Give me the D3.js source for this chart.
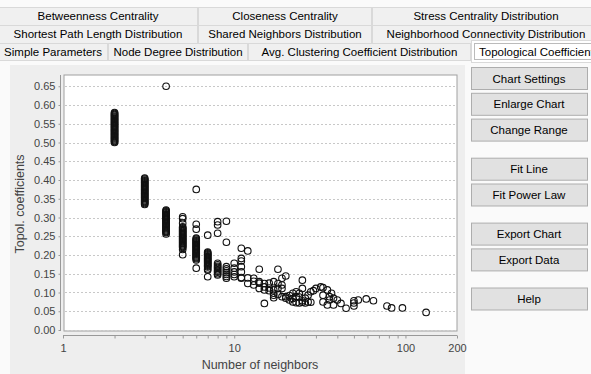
<!DOCTYPE html>
<html>
<head>
<meta charset="utf-8">
<script src="https://cdn.jsdelivr.net/npm/d3@7"></script>
<style>
  body { margin: 0; background: #fafafa; }
  svg { display: block; }
</style>
</head>
<body>
<script>
// tab captions, three rows
const tabRow1 = ['Betweenness Centrality', 'Closeness Centrality', 'Stress Centrality Distribution'];
const tabRow2 = ['Shortest Path Length Distribution', 'Shared Neighbors Distribution', 'Neighborhood Connectivity Distribution'];
const tabRow3 = ['Simple Parameters', 'Node Degree Distribution', 'Avg. Clustering Coefficient Distribution', 'Topological Coefficients'];
const buttonLabels = ['Chart Settings', 'Enlarge Chart', 'Change Range', '', 'Fit Line', 'Fit Power Law', '', 'Export Chart', 'Export Data', '', 'Help'];

// axis ticks
const yTicks = [0, 0.05, 0.1, 0.15, 0.2, 0.25, 0.3, 0.35, 0.4, 0.45, 0.5, 0.55, 0.6, 0.65];
const xMajor = [1, 10, 100, 200];
const xMinor = [2, 3, 4, 5, 6, 7, 8, 9, 20, 30, 40, 50, 60, 70, 80, 90];

// number of neighbors (k) and the topological coefficients of the nodes with k neighbors
const degrees = [2, 3, 4, 5, 6, 7, 8, 9, 10, 11, 12, 13, 14, 15, 16, 17, 18, 19, 20, 21, 22, 23, 24, 25, 26, 27, 28,
  29, 30, 32, 33, 35, 36, 37, 38, 40, 42, 45, 50, 53, 59, 65, 78, 83, 96, 132];
const coefficients = [
  [0.500,0.5025,0.505,0.5075,0.510,0.5125,0.515,0.5175,0.520,0.5225,0.525,0.5275,0.530,0.5325,0.535,0.5375,0.540,
   0.5425,0.545,0.5475,0.550,0.5525,0.555,0.5575,0.560,0.5625,0.565,0.5675,0.570,0.5725,0.575,0.5775,0.580],
  [0.335,0.3375,0.340,0.3425,0.345,0.3475,0.350,0.3525,0.355,0.3575,0.360,0.3625,0.365,0.3675,0.370,0.3725,0.375,
   0.3775,0.380,0.3825,0.385,0.3875,0.390,0.3925,0.395,0.3975,0.400,0.4025,0.405],
  [0.650,0.256,0.260,0.2625,0.265,0.2675,0.270,0.2725,0.275,0.2775,0.280,0.2825,0.285,0.2875,0.290,0.2925,0.295,
   0.2975,0.300,0.3025,0.305,0.3075,0.310,0.3125,0.315,0.3175,0.320],
  [0.302,0.297,0.285,0.275,0.2725,0.270,0.2675,0.265,0.2625,0.260,0.2575,0.255,0.2525,0.250,0.2475,0.245,0.2425,
   0.240,0.2375,0.235,0.2325,0.230,0.2275,0.225,0.2225,0.220,0.215,0.201],
  [0.375,0.282,0.269,0.245,0.2425,0.240,0.2375,0.235,0.2325,0.230,0.2275,0.225,0.2225,0.220,0.2175,0.215,0.2125,
   0.210,0.2075,0.205,0.2025,0.200,0.1975,0.195,0.1925,0.190,0.187,0.165],
  [0.253,0.208,0.2055,0.203,0.2005,0.198,0.1955,0.193,0.1905,0.188,0.1855,0.183,0.1805,0.178,0.1755,0.173,0.1705,
   0.168,0.163,0.160,0.142],
  [0.289,0.280,0.258,0.178,0.174,0.170,0.167,0.164,0.160,0.157,0.154,0.150,0.147],
  [0.290,0.234,0.169,0.163,0.158,0.153,0.148,0.143,0.138],
  [0.178,0.165,0.155,0.148,0.142],
  [0.218,0.191,0.184,0.169,0.155,0.140,0.138],
  [0.211,0.139,0.124],
  [0.138,0.130,0.120],
  [0.162,0.129,0.125,0.111],
  [0.124,0.115,0.107,0.071],
  [0.125,0.112,0.105],
  [0.129,0.107,0.098,0.093,0.086],
  [0.162,0.124,0.111,0.095],
  [0.138,0.120,0.111,0.089],
  [0.144,0.089,0.085],
  [0.092,0.080],
  [0.098,0.084,0.075],
  [0.102,0.089,0.073],
  [0.098,0.088,0.072],
  [0.133,0.111,0.078,0.074],
  [0.085,0.072],
  [0.093,0.075],
  [0.102,0.074],
  [0.105],
  [0.111],
  [0.115],
  [0.113,0.093,0.075],
  [0.107,0.067],
  [0.089,0.080],
  [0.098],
  [0.085,0.067],
  [0.080],
  [0.071],
  [0.058],
  [0.078,0.064,0.072],
  [0.080],
  [0.083],
  [0.078],
  [0.064],
  [0.059],
  [0.059],
  [0.047]
];

const W = 591, H = 374;
const uiFont = '"Liberation Sans", Arial, sans-serif';
const chartFont = '"Liberation Sans", Arial, sans-serif';

const svg = d3.select('body').append('svg')
  .attr('width', W)
  .attr('height', H);

svg.append('rect').attr('width', W).attr('height', H).attr('fill', '#fafafa');

// ---- tabs ----
function tabRow(labels, bounds, y0, h) {
  const g = svg.append('g');
  labels.forEach((t, i) => {
    const x0 = bounds[i], x1 = bounds[i + 1];
    g.append('rect')
      .attr('x', x0 + 0.5).attr('y', y0 + 0.5)
      .attr('width', x1 - x0 - 1).attr('height', h)
      .attr('fill', '#f0f0f0').attr('stroke', '#d9d9d9');
    g.append('text')
      .attr('x', (x0 + x1) / 2).attr('y', y0 + h / 2 + 4)
      .attr('text-anchor', 'middle')
      .attr('font-family', uiFont).attr('font-size', 11.5)
      .attr('fill', '#000')
      .text(t);
  });
  return g;
}
tabRow(tabRow1, [-2, 198, 372, 600], 7, 18);
tabRow(tabRow2, [-2, 198, 372, 600], 25, 18);
const row3 = tabRow(tabRow3.slice(0, 3), [-2, 108, 248, 471], 43, 17);
// selected tab
row3.append('rect')
  .attr('x', 471.5).attr('y', 40.5).attr('width', 125).attr('height', 22)
  .attr('fill', '#ffffff').attr('stroke', '#d9d9d9');
row3.append('rect')
  .attr('x', 474.5).attr('y', 43.5).attr('width', 125).attr('height', 16)
  .attr('fill', 'none').attr('stroke', '#777').attr('stroke-dasharray', '1,1');
row3.append('text')
  .attr('x', 479).attr('y', 56)
  .attr('font-family', uiFont).attr('font-size', 11.5)
  .text(tabRow3[3]);

// ---- chart panel ----
svg.append('rect')
  .attr('x', 10).attr('y', 65).attr('width', 455).attr('height', 312)
  .attr('fill', '#eeeeee');

const plot = { left: 64, right: 457, top: 75, bottom: 331 };

const x = d3.scaleLog()
  .domain([1, 200])
  .range([63, 457]);

const y = d3.scaleLinear()
  .domain([0, 0.68])
  .range([330, 75]);

svg.append('rect')
  .attr('x', plot.left).attr('y', plot.top)
  .attr('width', plot.right - plot.left).attr('height', plot.bottom - plot.top)
  .attr('fill', '#ffffff').attr('stroke', '#a0a0a0');

// horizontal grid
svg.append('g')
  .selectAll('line')
  .data(yTicks)
  .enter()
  .append('line')
  .attr('x1', plot.left + 1).attr('x2', plot.right - 1)
  .attr('y1', d => Math.round(y(d)) + 0.5).attr('y2', d => Math.round(y(d)) + 0.5)
  .attr('stroke', '#c8c8c8').attr('stroke-dasharray', '2,2');

// y axis
const yAxis = svg.append('g')
  .attr('transform', 'translate(60.5,0)')
  .call(d3.axisLeft(y).tickValues(yTicks).tickFormat(d3.format('.2f')).tickSize(2).tickPadding(3));
yAxis.select('.domain').attr('stroke', '#999').attr('d', `M0,${plot.top}V${plot.bottom}`);
yAxis.selectAll('.tick line').attr('stroke', '#999');
yAxis.selectAll('text').attr('font-family', chartFont).attr('font-size', 11).attr('fill', '#444');

// x axis
const xAxis = svg.append('g')
  .attr('transform', 'translate(0,335.5)')
  .call(d3.axisBottom(x).tickValues(xMajor.concat(xMinor))
    .tickFormat(d => xMajor.includes(d) ? d : '').tickSize(3).tickPadding(6));
xAxis.select('.domain').attr('stroke', '#999').attr('d', `M63,0H457`);
xAxis.selectAll('.tick line').attr('stroke', '#999');
xAxis.selectAll('text').attr('font-family', chartFont).attr('font-size', 11).attr('fill', '#444');

// axis titles
svg.append('text')
  .attr('x', 260).attr('y', 369)
  .attr('text-anchor', 'middle')
  .attr('font-family', chartFont).attr('font-size', 12.5).attr('fill', '#444')
  .text('Number of neighbors');
svg.append('text')
  .attr('transform', 'translate(24,204) rotate(-90)')
  .attr('text-anchor', 'middle')
  .attr('font-family', chartFont).attr('font-size', 12.5).attr('fill', '#444')
  .text('Topol. coefficients');

// points
const points = [];
degrees.forEach((k, i) => coefficients[i].forEach(v => points.push({ k: k, v: v })));

svg.append('g')
  .selectAll('circle')
  .data(points)
  .enter()
  .append('circle')
  .attr('cx', d => x(d.k))
  .attr('cy', d => y(d.v))
  .attr('r', 3.3)
  .attr('fill', 'none')
  .attr('stroke', '#111')
  .attr('stroke-width', 1.1);

// ---- buttons ----
const btnTop = 67, btnH = 22, btnStep = 25.8;
const btn = svg.append('g')
  .selectAll('g')
  .data(buttonLabels.map((t, i) => ({ t: t, i: i })).filter(d => d.t !== ''))
  .enter()
  .append('g')
  .attr('transform', d => {
    const gaps = buttonLabels.slice(0, d.i).filter(t => t === '').length;
    return `translate(471,${btnTop + d.i * btnStep - gaps * 12.5})`;
  });
btn.append('rect')
  .attr('x', 0.5).attr('y', 0.5).attr('width', 116).attr('height', btnH)
  .attr('fill', '#e1e1e1').attr('stroke', '#adadad');
btn.append('text')
  .attr('x', 58).attr('y', btnH / 2 + 4.5)
  .attr('text-anchor', 'middle')
  .attr('font-family', uiFont).attr('font-size', 11.5)
  .text(d => d.t);
</script>
</body>
</html>
